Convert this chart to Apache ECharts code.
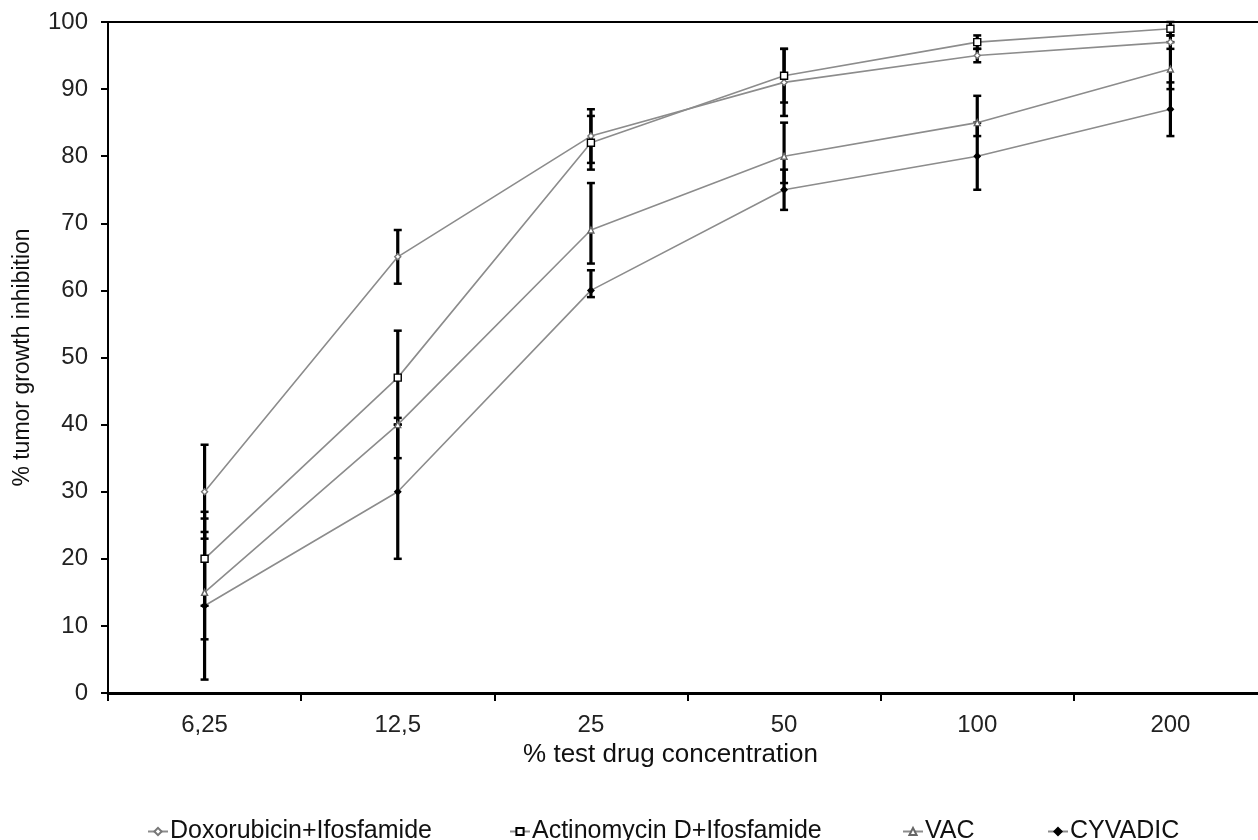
<!DOCTYPE html>
<html>
<head>
<meta charset="utf-8">
<script src="https://cdn.jsdelivr.net/npm/echarts@6/dist/echarts.min.js"></script>
<style>
html,body{margin:0;padding:0;background:#fff;overflow:hidden;width:1258px;height:840px;}
#chart{width:1268px;height:840px;}
</style>
</head>
<body>
<div id="chart"></div>
<script>
var categories = ['6,25', '12,5', '25', '50', '100', '200'];
var seriesNames = ['Doxorubicin+Ifosfamide', 'Actinomycin D+Ifosfamide', 'VAC', 'CYVADIC'];

var doxoValues = [30, 65, 83, 91, 95, 97];
var doxoLow    = [23, 61, 79, 86, 94, 96];
var doxoHigh   = [37, 69, 87, 96, 96, 98];

var actinoValues = [20, 47, 82, 92, 97, 99];
var actinoLow    = [13, 40, 78, 88, 96, 98];
var actinoHigh   = [27, 54, 86, 96, 98, 100];

var vacValues = [15, 40, 69, 80, 85, 93];
var vacLow    = [8, 35, 64, 76, 83, 90];
var vacHigh   = [26, 41, 76, 85, 89, 97];

var cyvadicValues = [13, 30, 60, 75, 80, 87];
var cyvadicLow    = [2, 20, 59, 72, 75, 83];
var cyvadicHigh   = [24, 40, 63, 78, 85, 91];

var yTicks = [0, 10, 20, 30, 40, 50, 60, 70, 80, 90, 100];

var FONT = 'Liberation Sans';

function errData(low, high) {
  return low.map(function (l, i) { return [i, l, high[i]]; });
}

function errSeries(low, high) {
  return {
    type: 'custom',
    z: 2,
    silent: true,
    data: errData(low, high),
    encode: { x: 0, y: [1, 2] },
    renderItem: function (params, api) {
      var x = api.value(0);
      var lo = api.coord([x, api.value(1)]);
      var hi = api.coord([x, api.value(2)]);
      var hw = 4;
      return {
        type: 'group',
        children: [
          { type: 'line', shape: { x1: lo[0], y1: lo[1], x2: hi[0], y2: hi[1] }, style: { stroke: '#000', lineWidth: 3.2 } },
          { type: 'line', shape: { x1: lo[0] - hw, y1: lo[1], x2: lo[0] + hw, y2: lo[1] }, style: { stroke: '#000', lineWidth: 2.5 } },
          { type: 'line', shape: { x1: hi[0] - hw, y1: hi[1], x2: hi[0] + hw, y2: hi[1] }, style: { stroke: '#000', lineWidth: 2.5 } }
        ]
      };
    }
  };
}

function lineSeries(name, values, symbol, size, fill, border) {
  return {
    name: name,
    type: 'line',
    z: 3,
    data: values,
    symbol: symbol,
    symbolSize: size,
    showAllSymbol: true,
    lineStyle: { color: '#8c8c8c', width: 1.6 },
    itemStyle: { color: fill, borderColor: border, borderWidth: 1.4 },
    emphasis: { disabled: true },
    animation: false
  };
}

function legendAt(left, name) {
  return {
    left: left,
    top: 814,
    data: [name],
    itemWidth: 20,
    itemHeight: 9,
    itemGap: 0,
    selectedMode: false,
    textStyle: { fontFamily: FONT, fontSize: 25, color: '#111', padding: [0, 0, 0, -3] }
  };
}

var chart = echarts.init(document.getElementById('chart'));
chart.setOption({
  backgroundColor: '#fff',
  animation: false,
  grid: { left: 108, right: 1, top: 22, bottom: 147, show: true, borderColor: '#000', borderWidth: 2, backgroundColor: 'transparent' },
  legend: [
    legendAt(142, seriesNames[0]),
    legendAt(504, seriesNames[1]),
    legendAt(897, seriesNames[2]),
    legendAt(1042, seriesNames[3])
  ],
  xAxis: {
    type: 'category',
    data: categories,
    boundaryGap: true,
    name: '% test drug concentration',
    nameLocation: 'middle',
    nameGap: 49,
    nameTextStyle: { fontFamily: FONT, fontSize: 26, color: '#111', padding: [0, 0, 0, -34] },
    axisLine: { lineStyle: { color: '#000', width: 2.8 } },
    axisTick: { show: true, alignWithLabel: false, length: 8, lineStyle: { color: '#000', width: 2 } },
    axisLabel: { fontFamily: FONT, fontSize: 24, color: '#222', margin: 20 },
    splitLine: { show: false }
  },
  yAxis: {
    type: 'value',
    min: 0,
    max: 100,
    interval: 10,
    name: '% tumor growth inhibition',
    nameLocation: 'middle',
    nameGap: 74,
    nameTextStyle: { fontFamily: FONT, fontSize: 23, color: '#111' },
    axisLine: { show: true, lineStyle: { color: '#000', width: 2 } },
    axisTick: { show: true, length: 7, lineStyle: { color: '#000', width: 2 } },
    axisLabel: {
      fontFamily: FONT, fontSize: 24, color: '#222', margin: 20,
      formatter: function (v) { return yTicks.indexOf(v) >= 0 ? String(v) : ''; }
    },
    splitLine: { show: false }
  },
  series: [
    errSeries(doxoLow, doxoHigh),
    errSeries(actinoLow, actinoHigh),
    errSeries(vacLow, vacHigh),
    errSeries(cyvadicLow, cyvadicHigh),
    lineSeries(seriesNames[0], doxoValues, 'diamond', 6, '#fff', '#777'),
    lineSeries(seriesNames[1], actinoValues, 'rect', 7, '#fff', '#000'),
    lineSeries(seriesNames[2], vacValues, 'triangle', 6, '#fff', '#666'),
    lineSeries(seriesNames[3], cyvadicValues, 'diamond', 6, '#000', '#000')
  ]
});
</script>
</body>
</html>
